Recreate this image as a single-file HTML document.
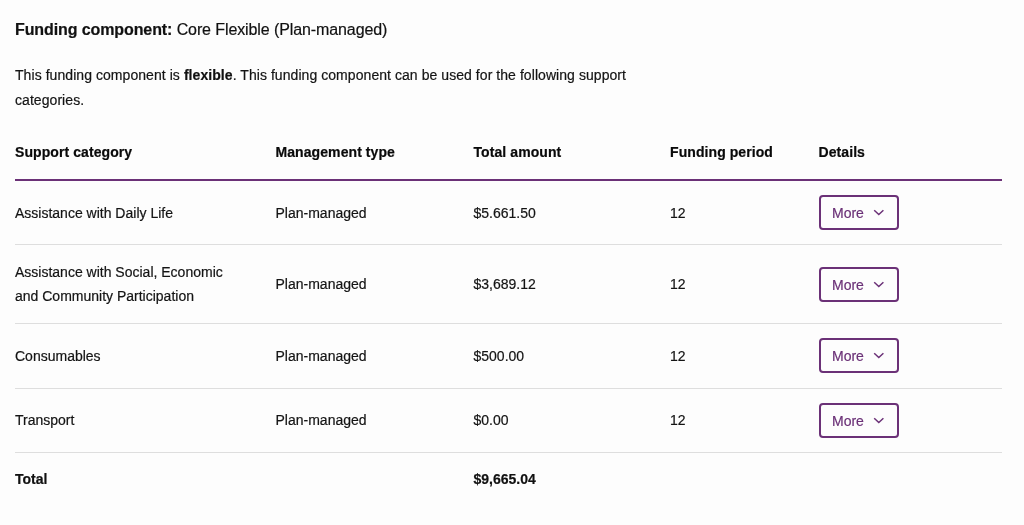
<!DOCTYPE html>
<html>
<head>
<meta charset="utf-8">
<style>
html,body{margin:0;padding:0;background:#fdfdfd;}
body{width:1024px;height:525px;overflow:hidden;position:relative;font-family:"Liberation Sans",sans-serif;color:#141414;}
.wrap{-webkit-text-stroke:0.2px currentColor;position:absolute;left:0;top:0;width:1024px;height:525px;background:#fdfdfd;will-change:transform;}
.h{position:absolute;left:15px;top:20px;font-size:16px;line-height:20px;margin:0;font-weight:400;color:#111;white-space:nowrap;letter-spacing:-0.1px;}
.h b{font-weight:700;}
.p{position:absolute;left:15px;top:63px;width:650px;font-size:14px;line-height:24.5px;margin:0;color:#141414;letter-spacing:0.06px;}
.p b{font-weight:700;color:#111;}
table{position:absolute;left:15px;top:126px;width:987px;border-collapse:separate;border-spacing:0;table-layout:fixed;font-size:14px;}
th{text-align:left;font-weight:700;color:#0a0a0a;letter-spacing:0.08px;padding:14.25px 0;vertical-align:middle;border-bottom:2px solid #6b3177;line-height:24.5px;}
td{padding:14.25px 0;vertical-align:middle;line-height:24.5px;color:#141414;border-bottom:1px solid #dedede;}
tr.r1 td{padding:14.5px 0 13.5px;}
tr.r1 td.b{padding:14px 0;}
tr.r2 td{padding:14.5px 0;}
tr.total td{border-bottom:none;font-weight:700;color:#111;}
.btn{display:block;box-sizing:border-box;width:80px;height:35px;margin-left:0;border:2px solid #6b3177;border-radius:4px;color:#6b3177;font-size:14px;line-height:31px;padding-left:11.5px;padding-top:1px;position:relative;}
.btn svg{position:absolute;left:51px;top:10px;}
</style>
</head>
<body>
<div class="wrap">
<h2 class="h"><b>Funding component:</b> Core Flexible (Plan-managed)</h2>
<p class="p">This funding component is <b>flexible</b>. This funding component can be used for the following support categories.</p>
<table>
<colgroup><col style="width:260.5px"><col style="width:198px"><col style="width:196.5px"><col style="width:148.5px"><col></colgroup>
<tr><th>Support category</th><th>Management type</th><th>Total amount</th><th>Funding period</th><th>Details</th></tr>
<tr class="r1"><td>Assistance with Daily Life</td><td>Plan-managed</td><td>$5.661.50</td><td>12</td><td class="b"><span class="btn">More<svg width="14" height="10" viewBox="0 0 14 10"><path d="M2.2 3.2 L6.8 7.5 L11.4 3.2" fill="none" stroke="#6b3177" stroke-width="1.5"/></svg></span></td></tr>
<tr class="r2"><td>Assistance with Social, Economic<br>and Community Participation</td><td>Plan-managed</td><td>$3,689.12</td><td>12</td><td><span class="btn">More<svg width="14" height="10" viewBox="0 0 14 10"><path d="M2.2 3.2 L6.8 7.5 L11.4 3.2" fill="none" stroke="#6b3177" stroke-width="1.5"/></svg></span></td></tr>
<tr><td>Consumables</td><td>Plan-managed</td><td>$500.00</td><td>12</td><td><span class="btn">More<svg width="14" height="10" viewBox="0 0 14 10"><path d="M2.2 3.2 L6.8 7.5 L11.4 3.2" fill="none" stroke="#6b3177" stroke-width="1.5"/></svg></span></td></tr>
<tr><td>Transport</td><td>Plan-managed</td><td>$0.00</td><td>12</td><td><span class="btn">More<svg width="14" height="10" viewBox="0 0 14 10"><path d="M2.2 3.2 L6.8 7.5 L11.4 3.2" fill="none" stroke="#6b3177" stroke-width="1.5"/></svg></span></td></tr>
<tr class="total"><td>Total</td><td></td><td>$9,665.04</td><td></td><td></td></tr>
</table>
</div>
</body>
</html>
